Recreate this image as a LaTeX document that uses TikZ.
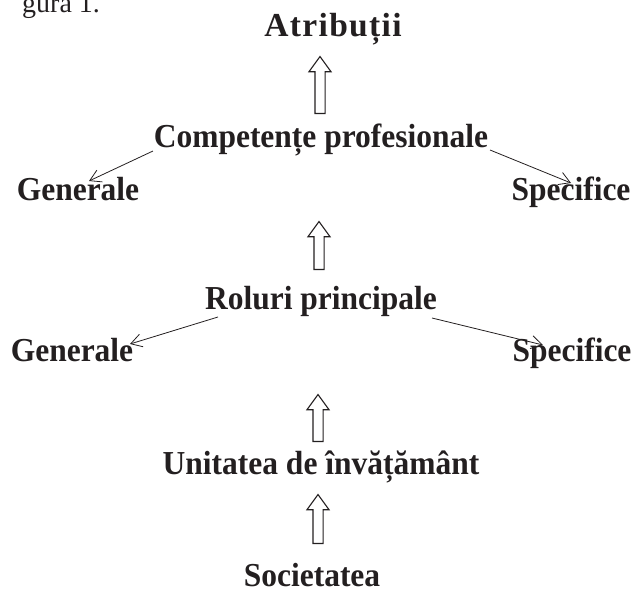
\documentclass[tikz,border=0pt]{standalone}
\usepackage{fontspec}
\setmainfont{Liberation Serif}
\usetikzlibrary{shapes.arrows,arrows.meta,calc}
\definecolor{ink}{HTML}{231F20}
\newcommand{\cond}[1]{\scalebox{0.94}[1]{#1}}
\tikzset{
  lbl/.style={font=\bfseries\fontsize{33.5}{34}\selectfont, text=ink, inner sep=0pt, anchor=base},
  blk/.style={single arrow, draw=ink, line width=1.1pt, shape border rotate=90,
    minimum height=#1, minimum width=21pt, single arrow head extend=6pt,
    single arrow tip angle=72, inner sep=4.5pt},
  thinarr/.style={draw=ink, line width=0.8pt, -{Straight Barb[length=11pt,width=13pt,line width=0.8pt]}}
}
\begin{document}
\begin{tikzpicture}[x=1pt,y=1pt]
\useasboundingbox (0,0) rectangle (633,-592);
\clip (0,0) rectangle (633,-592);
\node[font=\fontsize{28}{30}\selectfont, text=ink, inner sep=0pt, anchor=base west] (gura) at (22,-12) {gura 1.};
\node[lbl] (atr) at (333,-36) {\addfontfeature{LetterSpace=4}Atribuții};
\node[lbl] (comp) at (321,-147) {\cond{Competențe profesionale}};
\node[lbl] (gen1) at (78,-200) {\cond{Generale}};
\node[lbl] (spec1) at (571,-200) {\cond{Specifice}};
\node[lbl] (rol) at (321,-309) {\cond{Roluri principale}};
\node[lbl] (gen2) at (72,-361) {\cond{Generale}};
\node[lbl] (spec2) at (572,-361) {\cond{Specifice}};
\node[lbl] (unit) at (321,-474) {\cond{Unitatea de învățământ}};
\node[lbl] (soc) at (312,-586) {\cond{Societatea}};
% block arrows
\node[blk=57pt] (a1) at (320,-88.5) {};
\node[blk=48pt] (a2) at (319,-249) {};
\node[blk=47pt] (a3) at (318,-421.5) {};
\node[blk=49pt] (a4) at (318,-522.5) {};
% thin arrow ends
\coordinate (c1l) at (153,-151);
\coordinate (c1r) at (490,-150);
\coordinate (g1t) at (89,-181);
\coordinate (s1t) at (571,-183);
\coordinate (r2l) at (218,-317);
\coordinate (r2r) at (432,-318);
\coordinate (g2t) at (130,-344);
\coordinate (s2t) at (543,-345);
\draw[thinarr] (c1l) -- (g1t);
\draw[thinarr] (c1r) -- (s1t);
\draw[thinarr] (r2l) -- (g2t);
\draw[thinarr] (r2r) -- (s2t);
\end{tikzpicture}
\end{document}
